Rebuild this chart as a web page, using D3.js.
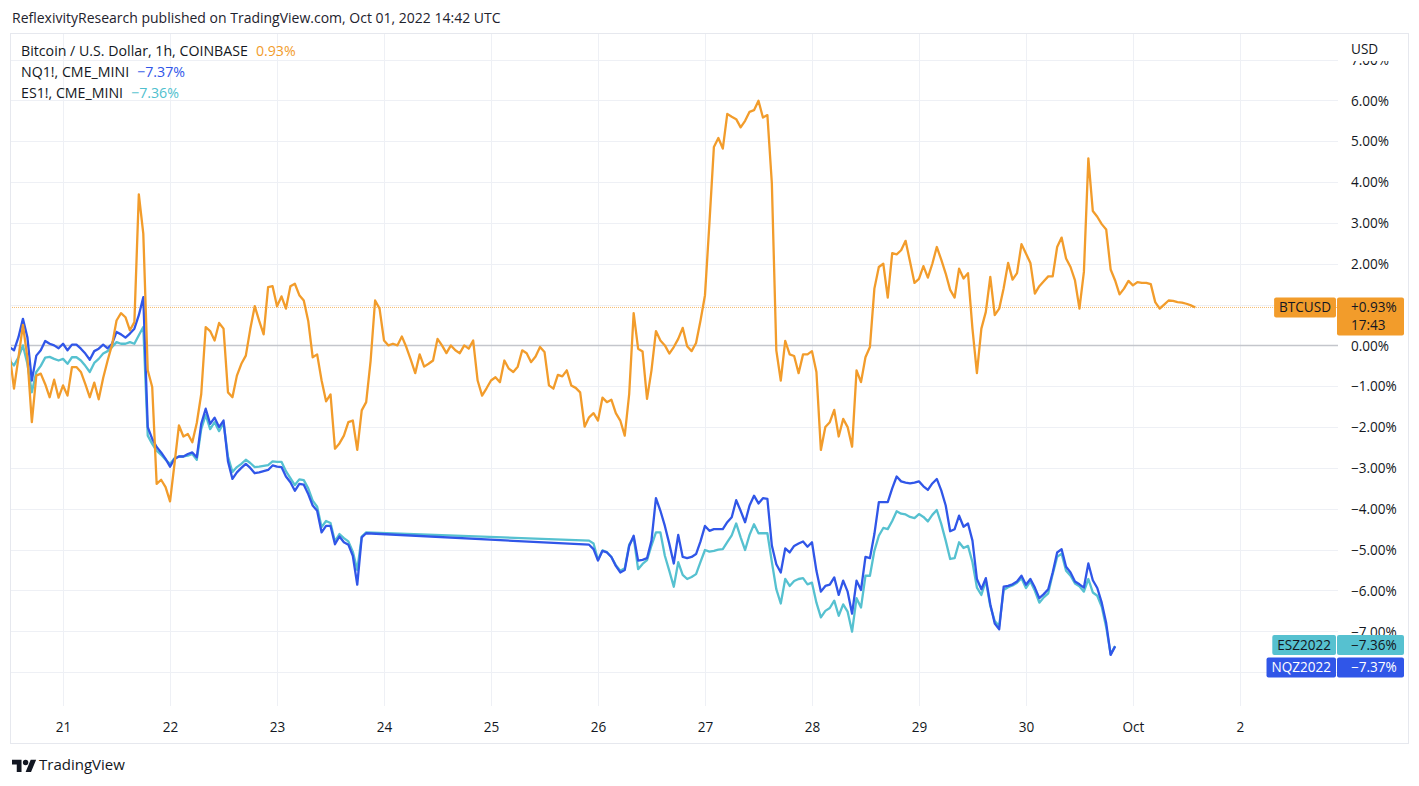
<!DOCTYPE html>
<html><head><meta charset="utf-8">
<script src="https://cdn.jsdelivr.net/npm/d3@7/dist/d3.min.js"></script>
<style>
body{margin:0;background:#fff;}
svg text{font-family:"Open Sans",Lato,sans-serif;fill:#131722;}
</style></head><body>
<svg id="chart" width="1419" height="786"></svg>
<script>
// ---------- data ----------
const dayTicks = ["2022-09-21","2022-09-22","2022-09-23","2022-09-24","2022-09-25","2022-09-26","2022-09-27","2022-09-28","2022-09-29","2022-09-30","2022-10-01","2022-10-02"];
const dayTickLabels = ["21","22","23","24","25","26","27","28","29","30","Oct","2"];
const pctTicks = [-7,-6,-5,-4,-3,-2,-1,0,2,3,4,5,6,7];
const gridTicks = [-8,-7,-6,-5,-4,-3,-2,-1,1,2,3,4,5,6,7];

// hours relative to 2022-09-21 00:00, hourly bars
const btcHours = d3.range(-12, 255);
const btcValues = [
 -0.2,-1.06,-0.3,0.5,-0.3,-1.88,-0.74,-0.69,-0.95,-1.27,
 -0.84,-1.28,-0.98,-1.23,-0.53,-0.53,-0.65,-0.95,-1.27,-0.91,
 -1.32,-0.8,-0.37,0.02,0.61,0.79,0.69,0.37,0.57,3.70,
 2.74,-0.61,-1.02,-3.39,-3.29,-3.47,-3.82,-2.9,-1.96,-2.23,
 -2.17,-2.37,-1.9,-1.19,0.45,0.35,0.12,0.55,0.41,-1.15,
 -1.27,-0.74,-0.45,-0.25,0.4,0.96,0.6,0.27,1.43,1.45,
 0.96,1.20,0.90,1.45,1.51,1.23,1.10,0.6,-0.29,-0.22,
 -0.86,-1.37,-1.20,-2.53,-2.4,-2.21,-1.88,-1.84,-2.56,-1.59,
 -1.39,-0.37,1.10,0.90,0.12,0,0.04,0,0.22,-0.04,
 -0.35,-0.68,-0.22,-0.52,-0.45,-0.37,0.16,0,-0.19,0,
 -0.12,-0.19,0,-0.08,0.12,-0.86,-1.23,-1.05,-0.86,-0.78,
 -0.90,-0.37,-0.57,-0.65,-0.52,-0.12,-0.19,-0.41,-0.27,-0.04,
 -0.16,-0.98,-1.06,-0.72,-0.76,-0.61,-0.98,-1.04,-1.15,-1.99,
 -1.76,-1.66,-1.84,-1.28,-1.39,-1.33,-1.66,-1.84,-2.21,-1.19,
 0.79,-0.08,-0.15,-1.31,-0.61,0.35,0.12,0,-0.20,-0.04,
 0.16,0.43,-0.02,-0.14,0.06,0.61,1.23,3.0,4.86,5.08,
 4.82,5.67,5.6,5.54,5.34,5.5,5.72,5.76,5.99,5.58,
 5.64,3.97,-0.12,-0.86,0.11,-0.22,-0.26,-0.68,-0.22,-0.22,
 -0.14,-0.65,-2.56,-2.00,-1.88,-1.58,-2.23,-1.80,-2.00,-2.48,
 -0.61,-0.90,-0.29,-0.04,1.39,1.92,2.00,1.17,2.26,2.23,
 2.33,2.56,2.05,1.53,1.63,1.94,1.66,2.0,2.41,2.1,
 1.76,1.36,1.17,1.88,1.64,1.77,0.41,-0.68,0.41,0.82,
 1.68,0.74,0.90,1.4,2.02,1.61,1.77,2.48,2.25,2.02,
 1.27,1.45,1.57,1.69,1.69,2.41,2.64,2.13,1.92,1.59,
 0.90,1.80,4.58,3.29,3.15,2.97,2.84,1.86,1.59,1.25,
 1.39,1.58,1.47,1.55,1.53,1.53,1.50,1.06,0.90,1.0,
 1.10,1.09,1.06,1.05,1.02,0.98,0.93
];
// futures: Friday close to Sunday reopen gap
const futHours = [...d3.range(-12, 69), ...d3.range(118, 237)];
const nqValues = [
 -0.04,-0.12,0.2,0.65,0.2,-0.86,-0.25,-0.12,0.11,0.04,
 0,-0.07,0.04,-0.12,0.02,0.02,-0.08,-0.2,-0.35,-0.14,
 -0.08,0.02,-0.07,0.04,0.33,0.27,0.19,0.29,0.41,0.74,
 1.18,-2.0,-2.29,-2.49,-2.62,-2.78,-2.97,-2.78,-2.72,-2.72,
 -2.66,-2.62,-2.74,-1.92,-1.55,-1.92,-1.77,-2.0,-1.84,-2.84,
 -3.27,-3.11,-3.0,-2.90,-3.0,-3.13,-3.11,-3.08,-3.05,-2.94,
 -2.97,-2.98,-3.21,-3.35,-3.56,-3.39,-3.41,-3.64,-3.92,-4.05,
 -4.58,-4.42,-4.42,-4.87,-4.68,-4.82,-4.88,-5.15,-5.86,-4.70,-4.60,
 -4.88,-4.99,-5.27,-5.03,-5.07,-5.18,-5.40,-5.56,-5.50,-4.91,
 -4.66,-5.27,-5.25,-5.21,-4.78,-3.74,-4.05,-4.42,-4.86,-5.34,
 -4.64,-5.18,-5.21,-5.18,-5.11,-4.8,-4.42,-4.54,-4.50,-4.50,
 -4.50,-4.33,-4.21,-3.79,-4.05,-4.33,-3.92,-3.68,-3.87,-3.74,
 -3.76,-4.9,-5.36,-5.56,-4.97,-5.07,-4.91,-4.85,-4.80,-4.93,
 -4.82,-5.52,-6.03,-5.89,-5.86,-5.68,-6.11,-5.76,-6.03,-6.57,
 -5.76,-5.99,-5.18,-5.21,-4.62,-3.84,-3.84,-3.84,-3.5,-3.21,
 -3.33,-3.36,-3.38,-3.36,-3.33,-3.45,-3.54,-3.38,-3.27,-3.55,
 -3.92,-4.55,-4.50,-4.17,-4.44,-4.36,-4.78,-5.72,-5.97,-5.70,
 -6.34,-6.81,-6.95,-5.91,-5.89,-5.85,-5.78,-5.64,-5.86,-5.72,
 -5.93,-6.19,-6.09,-5.97,-5.56,-5.07,-4.99,-5.42,-5.56,-5.78,
 -5.85,-5.93,-5.34,-5.75,-5.94,-6.3,-6.8,-7.58,-7.37
];
const esValues = [
 -0.37,-0.49,-0.29,0,-0.45,-1.15,-0.65,-0.5,-0.3,-0.28,
 -0.33,-0.37,-0.33,-0.45,-0.29,-0.29,-0.37,-0.5,-0.65,-0.43,
 -0.33,-0.2,-0.14,-0.04,0.08,0.04,0.04,0.08,0.04,0.25,
 0.45,-2.21,-2.41,-2.58,-2.68,-2.80,-2.9,-2.76,-2.72,-2.72,
 -2.7,-2.66,-2.80,-2.05,-1.7,-2.05,-1.88,-2.1,-1.9,-2.72,
 -3.1,-2.98,-2.9,-2.8,-2.88,-2.98,-2.97,-2.95,-2.93,-2.84,
 -2.85,-2.85,-3.08,-3.25,-3.42,-3.28,-3.3,-3.5,-3.8,-3.95,
 -4.45,-4.3,-4.35,-4.8,-4.62,-4.72,-4.8,-5.05,-5.5,-4.68,-4.58,
 -4.78,-4.85,-5.25,-5.02,-5.06,-5.18,-5.38,-5.52,-5.46,-4.88,
 -4.70,-5.48,-5.35,-5.26,-4.9,-4.58,-4.58,-5.15,-5.52,-5.91,
 -5.31,-5.62,-5.72,-5.67,-5.60,-5.3,-5.01,-5.05,-5.03,-5.0,
 -4.99,-4.82,-4.65,-4.36,-4.70,-5.01,-4.64,-4.38,-4.60,-4.60,
 -4.60,-5.3,-5.97,-6.32,-5.72,-5.89,-5.77,-5.72,-5.70,-5.85,
 -5.81,-6.30,-6.66,-6.50,-6.43,-6.25,-6.62,-6.34,-6.52,-7.01,
 -6.19,-6.42,-5.64,-5.64,-5.03,-4.66,-4.47,-4.50,-4.3,-4.06,
 -4.12,-4.14,-4.2,-4.23,-4.13,-4.2,-4.31,-4.15,-4.03,-4.37,
 -4.78,-5.23,-5.21,-4.82,-4.96,-4.91,-5.31,-5.93,-6.11,-5.76,
 -6.38,-6.75,-6.87,-5.99,-5.92,-5.88,-5.81,-5.70,-5.94,-5.78,
 -6.01,-6.30,-6.17,-6.07,-5.60,-5.18,-5.10,-5.52,-5.64,-5.83,
 -5.90,-6.03,-5.72,-6.05,-6.13,-6.4,-6.9,-7.56,-7.36
];
const titleText = "ReflexivityResearch published on TradingView.com, Oct 01, 2022 14:42 UTC";
const legendRows = [
  {name:"Bitcoin / U.S. Dollar, 1h, COINBASE", value:"0.93%", color:"#f29c2b"},
  {name:"NQ1!, CME_MINI", value:"\u22127.37%", color:"#3056e8"},
  {name:"ES1!, CME_MINI", value:"\u22127.36%", color:"#4fbfce"}
];
const lastBtc = 0.93, lastEs = -7.36, lastNq = -7.37;

// ---------- layout ----------
const W = 1419, H = 786;
const pane = {l:10, r:1338, t:33, b:706};
const frame = {l:10, r:1408, t:33, b:743};
const base = Date.UTC(2022,8,21);
const t = h => new Date(base + h*3600e3);

const x = d3.scaleUtc().domain([t(-11.9), t(286)]).range([pane.l, pane.r]);
const y = d3.scaleLinear().domain([-8.83, 7.65]).range([pane.b, pane.t]);

const svg = d3.select("#chart");
svg.append("rect").attr("width",W).attr("height",H).attr("fill","#fff");

// font size fitted so a string spans a given width
function fitSize(str, target){
  const tmp = svg.append("text").style("font-size","100px").text(str);
  const w = tmp.node().getComputedTextLength(); tmp.remove();
  return (100*target/w).toFixed(2) + "px";
}
const titleSize = fitSize(titleText, 489);
const legendSize = fitSize(legendRows[0].name, 227);
const axisSize = fitSize("6.00%", 38);
const footerSize = fitSize("TradingView", 86);

// title
svg.append("text").attr("x",12).attr("y",18).attr("dy","0.35em")
  .style("font-size",titleSize).style("fill","#1e222d").text(titleText);

// frame
svg.append("rect").attr("x",frame.l+0.5).attr("y",frame.t+0.5)
  .attr("width",frame.r-frame.l).attr("height",frame.b-frame.t)
  .attr("fill","none").attr("stroke","#e6e8ee");

const defs = svg.append("defs");
defs.append("clipPath").attr("id","paneClip").append("rect")
  .attr("x",pane.l+1).attr("y",pane.t+1).attr("width",pane.r-pane.l-1).attr("height",pane.b-pane.t);
defs.append("clipPath").attr("id","axisClip").append("rect")
  .attr("x",pane.r).attr("y",61).attr("width",70).attr("height",700);

const days = dayTicks.map(d => new Date(d+"T00:00:00Z"));

// grid
const grid = svg.append("g").attr("clip-path","url(#paneClip)");
grid.selectAll("line.h").data(gridTicks).join("line")
  .attr("x1",pane.l).attr("x2",pane.r)
  .attr("y1",d=>Math.round(y(d))+0.5).attr("y2",d=>Math.round(y(d))+0.5)
  .attr("stroke","#eef0f5").attr("stroke-width",1);
grid.selectAll("line.v").data(days).join("line")
  .attr("x1",d=>Math.round(x(d))+0.5).attr("x2",d=>Math.round(x(d))+0.5)
  .attr("y1",pane.t).attr("y2",pane.b)
  .attr("stroke","#eef0f5").attr("stroke-width",1);
// zero line
grid.append("line").attr("x1",pane.l).attr("x2",pane.r)
  .attr("y1",y(0)).attr("y2",y(0)).attr("stroke","#c4c6cc").attr("stroke-width",1.5);
// BTC last price dotted line
grid.append("line").attr("x1",pane.l).attr("x2",pane.r)
  .attr("y1",y(lastBtc)).attr("y2",y(lastBtc))
  .attr("stroke","#f29c2b").attr("stroke-opacity",0.7).attr("stroke-width",1).attr("stroke-dasharray","1,1");

// series
const line = d3.line().x(d=>x(t(d[0]))).y(d=>y(d[1]));
const plot = svg.append("g").attr("clip-path","url(#paneClip)");
const esData = futHours.map((h,i)=>[h,esValues[i]]);
const nqData = futHours.map((h,i)=>[h,nqValues[i]]);
const btcData = btcHours.map((h,i)=>[h,btcValues[i]]);
plot.append("path").datum(esData).attr("d",line).attr("fill","none")
  .attr("stroke","#56c1d0").attr("stroke-width",2.3).attr("stroke-linejoin","round");
plot.append("path").datum(nqData).attr("d",line).attr("fill","none")
  .attr("stroke","#3056e8").attr("stroke-width",2.3).attr("stroke-linejoin","round");
plot.append("path").datum(btcData).attr("d",line).attr("fill","none")
  .attr("stroke","#f29c2b").attr("stroke-width",2.3).attr("stroke-linejoin","round");

// y axis (right)
const yAxis = d3.axisRight(y).tickValues(pctTicks).tickSize(0).tickPadding(0)
  .tickFormat(v => (v<0?"\u2212":"") + Math.abs(v).toFixed(2) + "%");
const yOuter = svg.append("g").attr("clip-path","url(#axisClip)");
const yg = yOuter.append("g").attr("transform","translate(1351,0)").call(yAxis);
yg.select(".domain").remove();
yg.selectAll("text").attr("x",0).attr("dy","0.35em").attr("text-anchor","start")
  .style("font-size",axisSize).style("font-family","'Open Sans',Lato,sans-serif").attr("fill","#131722");
yg.selectAll(".tick").filter(d => d === 7).select("text").attr("fill","#9598a1");
svg.append("text").attr("x",1351).attr("y",49).attr("dy","0.35em")
  .style("font-size",axisSize).text("USD");

// x axis
const xAxis = d3.axisBottom(x).tickValues(days).tickSize(0).tickPadding(0)
  .tickFormat((d,i)=>dayTickLabels[i]);
const xg = svg.append("g").attr("transform","translate(0,727)").call(xAxis);
xg.select(".domain").remove();
xg.selectAll("text").attr("y",0).attr("dy","0.35em")
  .style("font-size",axisSize).style("font-family","'Open Sans',Lato,sans-serif").attr("fill","#131722");

// legend
const lg = svg.append("g");
legendRows.forEach((r,i)=>{
  const tx = lg.append("text").attr("x",21).attr("y",51+i*21).attr("dy","0.35em").style("font-size",legendSize);
  tx.append("tspan").text(r.name);
  tx.append("tspan").attr("dx",8).style("fill",r.color).text(r.value);
});

// last value labels
function priceLabel(name, valueLines, color, textColor, cy, valueHeight){
  const g = svg.append("g");
  const top = cy - 10;
  const nt = g.append("text").attr("y",cy).attr("dy","0.35em").attr("text-anchor","middle")
    .style("font-size",axisSize).style("fill",textColor).text(name);
  const nameW = nt.node().getComputedTextLength() + 10;
  g.insert("rect","text").attr("x",1336-nameW).attr("y",top).attr("width",nameW).attr("height",20).attr("rx",2).attr("fill",color);
  nt.attr("x",1336-nameW/2);
  g.append("rect").attr("x",1337).attr("y",top).attr("width",67).attr("height",valueHeight).attr("rx",2).attr("fill",color);
  valueLines.forEach((s,i)=>{
    g.append("text").attr("x",1351).attr("y",cy+i*18).attr("dy","0.35em")
      .style("font-size",axisSize).style("fill",textColor).text(s);
  });
}
priceLabel("BTCUSD", ["+0.93%","17:43"], "#f29c2b", "#131722", y(lastBtc), 38);
priceLabel("ESZ2022", ["\u22127.36%"], "#56c1d0", "#131722", y(lastEs)-1, 20);
priceLabel("NQZ2022", ["\u22127.37%"], "#3056e8", "#ffffff", y(lastNq)+21, 20);

// footer logo
const logo = svg.append("g").attr("transform","translate(12,757) scale(0.68)");
logo.append("path").attr("d","M14 22H7V11H0V4h14v18zM28 22h-8l7.5-18h8L28 22z").attr("fill","#131722");
logo.append("circle").attr("cx",20).attr("cy",8).attr("r",4).attr("fill","#131722");
svg.append("text").attr("x",39).attr("y",765).attr("dy","0.35em")
  .style("font-size",footerSize).style("fill","#131722").text("TradingView");
</script>
</body></html>
